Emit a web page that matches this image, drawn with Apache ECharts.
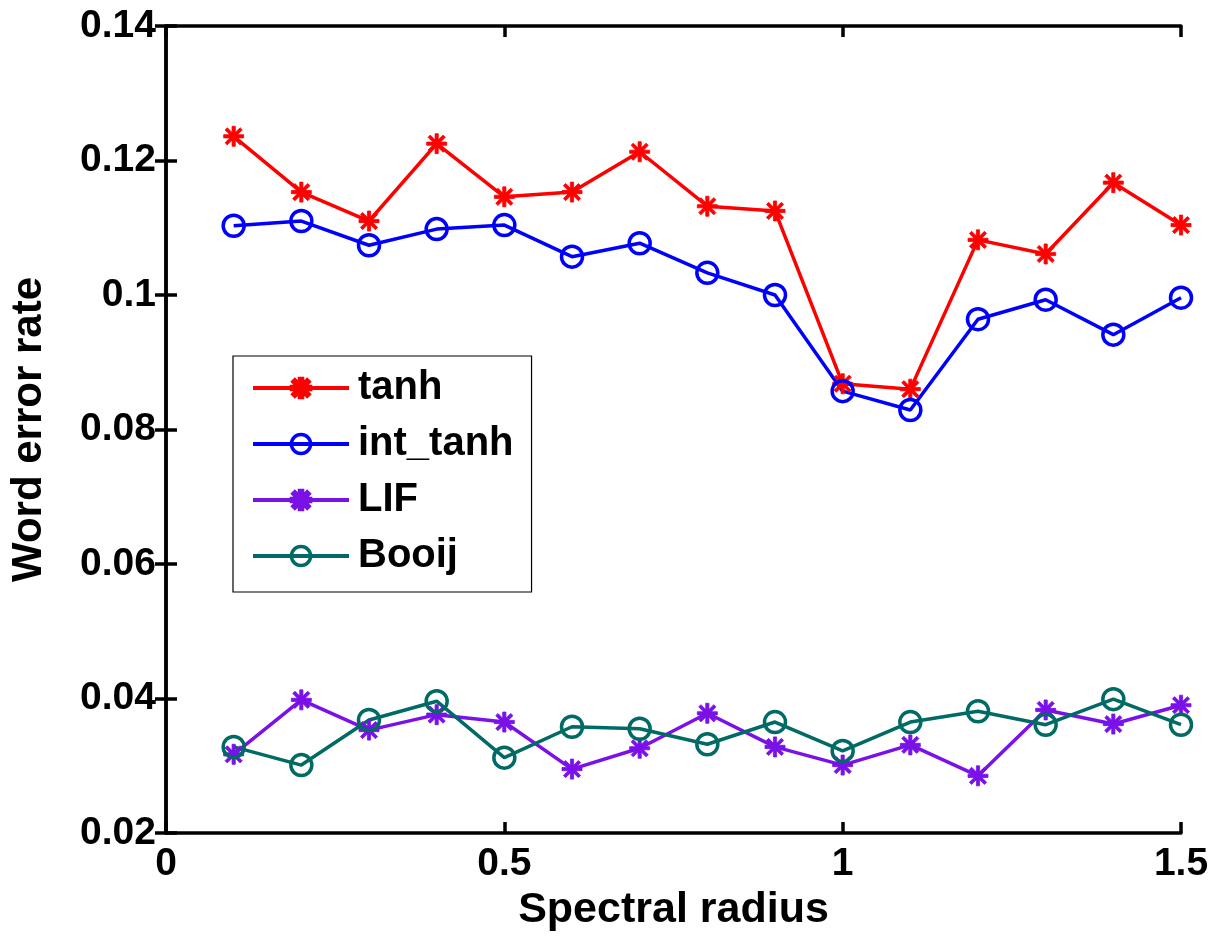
<!DOCTYPE html>
<html><head><meta charset="utf-8">
<script src="https://cdn.jsdelivr.net/npm/echarts@6/dist/echarts.min.js"></script>
<style>html,body{margin:0;padding:0;background:#fff}#c{width:1215px;height:936px}</style>
</head><body><div id="c"></div>
<script>
const radius = [0.1,0.2,0.3,0.4,0.5,0.6,0.7,0.8,0.9,1.0,1.1,1.2,1.3,1.4,1.5];
const tanh    = [0.1236,0.1153,0.1110,0.1225,0.1146,0.1153,0.1213,0.1132,0.1125,0.0868,0.0860,0.1082,0.1061,0.1167,0.1104];
const intTanh = [0.1103,0.1110,0.1074,0.1098,0.1104,0.1057,0.1077,0.1033,0.1000,0.0857,0.0829,0.0964,0.0993,0.0941,0.0996];
const lif     = [0.0317,0.0398,0.0353,0.0376,0.0365,0.0295,0.0326,0.0378,0.0328,0.0301,0.0331,0.0285,0.0383,0.0362,0.0390];
const booij   = [0.0328,0.0301,0.0368,0.0396,0.0312,0.0358,0.0355,0.0332,0.0365,0.0322,0.0365,0.0381,0.0361,0.0399,0.0361];
const seriesNames = ['tanh','int_tanh','LIF','Booij'];

const star = 'path://M8.4 0L11.6 0L11.6 20L8.4 20Z M0 8.4L20 8.4L20 11.6L0 11.6Z M1.4 3.6L3.6 1.4L18.6 16.4L16.4 18.6Z M16.4 1.4L18.6 3.6L3.6 18.6L1.4 16.4Z M6.5 6.5L13.5 6.5L13.5 13.5L6.5 13.5Z';
const font = 'Liberation Sans';
function pairs(v){ return radius.map((x,i)=>[x,v[i]]); }
function mk(name, data, color, sym){
  const isStar = sym === 'star';
  return {
    name, type:'line', data: pairs(data),
    symbol: isStar ? star : 'circle',
    symbolSize: isStar ? 20 : 21,
    showAllSymbol: true,
    lineStyle:{color, width:3.5},
    itemStyle: isStar ? {color, borderColor:color, borderWidth:0.8}
                      : {color:'rgba(255,255,255,0)', borderColor:color, borderWidth:3.5},
    emphasis:{disabled:true},
    animation:false
  };
}
const chart = echarts.init(document.getElementById('c'));
const axisLine = {show:true, lineStyle:{color:'#000', width:3.5}};
const tick = {show:true, inside:true, length:11, lineStyle:{color:'#000', width:3.5}};
const labelStyle = {fontFamily:font, fontWeight:'bold', fontSize:39, color:'#000'};
chart.setOption({
  backgroundColor:'#fff',
  animation:false,
  grid:{left:166, right:34, top:26, bottom:103, containLabel:false, outerBoundsMode:'none'},
  legend:{
    data: seriesNames,
    orient:'vertical', left:233, top:356,
    backgroundColor:'#fff', borderColor:'#000', borderWidth:1.2,
    padding:[12,18,16,18], itemWidth:96, itemHeight:24, itemGap:16,
    lineStyle:{width:4},
    itemStyle:{borderWidth:3.5},
    textStyle:{fontFamily:font, fontWeight:'bold', fontSize:40, color:'#000', lineHeight:40, padding:[0,0,0,4]}
  },
  xAxis:[{
    type:'value', min:0, max:1.5, interval:0.5,
    name:'Spectral radius', nameLocation:'middle', nameGap:56,
    nameTextStyle:{fontFamily:font, fontWeight:'bold', fontSize:43, color:'#000'},
    axisLine, axisTick:tick,
    axisLabel:Object.assign({margin:12, formatter: v => String(+v.toFixed(2))}, labelStyle),
    splitLine:{show:false}
  },{
    type:'value', position:'top', min:0, max:1.5, interval:0.5,
    axisLine, axisTick:tick,
    axisLabel:{show:false}, splitLine:{show:false}
  }],
  yAxis:[{
    type:'value', min:0.02, max:0.14, interval:0.02,
    name:'Word error rate', nameLocation:'middle', nameGap:116,
    nameTextStyle:{fontFamily:font, fontWeight:'bold', fontSize:42, color:'#000'},
    axisLine, axisTick:tick,
    axisLabel:Object.assign({margin:10, formatter: v => String(+v.toFixed(2))}, labelStyle),
    splitLine:{show:false}
  },{
    type:'value', position:'right', min:0.02, max:0.14, interval:0.02,
    axisLine, axisTick:tick,
    axisLabel:{show:false}, splitLine:{show:false}
  }],
  series:[
    mk('tanh', tanh, '#ff0000', 'star'),
    mk('int_tanh', intTanh, '#0000ff', 'circle'),
    mk('LIF', lif, '#7a12e8', 'star'),
    mk('Booij', booij, '#006a64', 'circle')
  ]
});
</script></body></html>
